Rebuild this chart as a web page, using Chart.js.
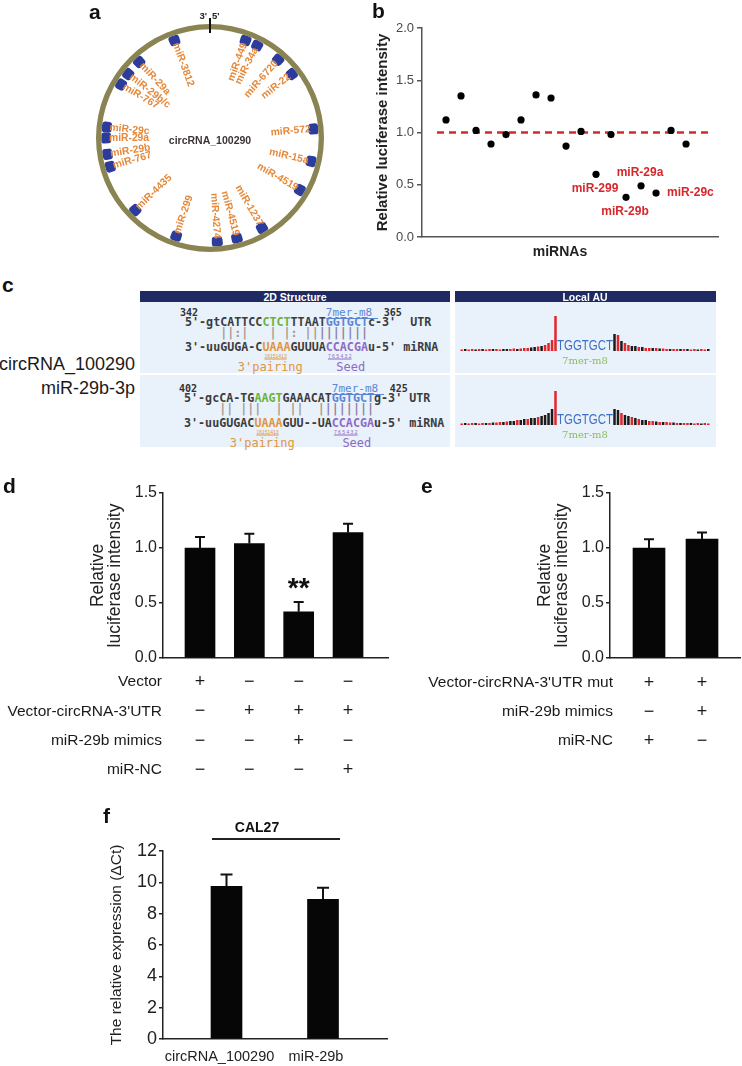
<!DOCTYPE html>
<html>
<head>
<meta charset="utf-8">
<title>circRNA_100290 sponges miR-29b</title>
<script src="https://cdn.jsdelivr.net/npm/chart.js@4.4.1/dist/chart.umd.min.js"></script>
<style>
  html, body { margin: 0; padding: 0; background: #fff; }
  #page { position: relative; width: 742px; height: 1066px; overflow: hidden; font-family: Arial, 'Liberation Sans', sans-serif; color: #1a1a1a; }
  #page canvas { position: absolute; z-index: 2; }
  .t { position: absolute; white-space: pre; line-height: 1; z-index: 3; }
  .box { position: absolute; z-index: 1; }
  .seq { font-family: 'DejaVu Sans Mono', monospace; font-weight: bold; font-size: 11.7px; color: #3c3c3c; }
</style>
</head>
<body>
<div id="page">
  <canvas id="chartA" width="240" height="240" style="left:90px;top:18px"></canvas>
  <canvas id="chartB" width="372" height="260" style="left:370px;top:0px"></canvas>
  <canvas id="chartAU1" width="250" height="40" style="left:460px;top:311px"></canvas>
  <canvas id="chartAU2" width="250" height="40" style="left:460px;top:385px"></canvas>
  <canvas id="chartD" width="400" height="310" style="left:0px;top:470px"></canvas>
  <canvas id="chartE" width="322" height="300" style="left:420px;top:470px"></canvas>
  <canvas id="chartF" width="400" height="266" style="left:0px;top:800px"></canvas>
</div>
<script>
// ---------- data ----------
// a: predicted miRNA sites on circRNA_100290 (degrees clockwise from the 3'/5' junction)
const siteNames = ['miR-449', 'miR-34a', 'miR-6720', 'miR-22', 'miR-572', 'miR-15a', 'miR-4519', 'miR-1237', 'miR-4519',
  'miR-4274', 'miR-299', 'miR-4435', 'miR-767', 'miR-29b', 'miR-29a', 'miR-29c', 'miR-767', 'miR-29b/c', 'miR-29a', 'miR-3812'];
const siteAngles = [20, 27, 41, 52, 85, 103, 120, 150, 165, 176, 199, 226, 254, 261, 270, 276, 301, 308, 317, 340];

// b: luciferase screen, one point per miRNA
const screenValues = [1.12, 1.35, 1.02, 0.89, 0.98, 1.12, 1.36, 1.33, 0.87, 1.01, 0.60, 0.98, 0.38, 0.49, 0.42, 1.02, 0.89];
const hitIndex = [10, 12, 13, 14];
const hitNames = ['miR-299', 'miR-29b', 'miR-29a', 'miR-29c'];
const cutoff = 1.0;

// c: local AU bars either side of the site (r = red, k = black)
const au1Left = [1.5, 2, 1.5, 2, 1.5, 2, 2, 1.5, 2, 2, 2, 1.5, 2, 2, 2, 2.5, 2, 2.5, 3, 3, 3.5, 4, 4.5, 5, 6, 8, 11, 35];
const au1Right = [17, 16, 10, 8, 6, 5, 5, 4, 4, 3, 3, 3, 3, 2.5, 2.5, 2, 2, 2, 2, 2, 2, 2, 1.5, 2, 1.5, 2, 1.5, 2];
const au1Colors = 'rkrrkrkrrkrrkkrrkrrrkkrkrrrr' + 'krkrrkkrkrrkrkrrkrrkrkrrkrrk';
const au2Left = [1.5, 2, 1.5, 2, 2, 1.5, 2, 2, 2, 2.5, 2.5, 3, 3, 3.5, 4, 4, 5, 5, 6, 6, 7, 7, 8, 9, 10, 12, 16, 34];
const au2Right = [16, 15, 12, 10, 9, 8, 7, 6, 5, 5, 4, 4, 3.5, 3, 3, 3, 2.5, 2.5, 2, 2, 2, 2, 2, 1.5, 2, 1.5, 2, 1.5];
const au2Colors = 'rkrrkrrkrkrrkrkkrkkrkkrkkkkr' + 'kkrkkrkrkkrrkrkrrkrkrrkrrkrr';
const auGap = 16;

// d: reporter assay
const dValues = [1.00, 1.04, 0.42, 1.14];
const dErrors = [0.10, 0.09, 0.09, 0.08];
const dStars = ['', '', '**', ''];
const dRows = ['Vector', "Vector-circRNA-3'UTR", 'miR-29b mimics', 'miR-NC'];
const dSigns = [['+', '−', '−', '−'], ['−', '+', '+', '+'], ['−', '−', '+', '−'], ['−', '−', '−', '+']];

// e: mutant reporter
const eValues = [1.00, 1.08];
const eErrors = [0.08, 0.06];
const eRows = ["Vector-circRNA-3'UTR mut", 'miR-29b mimics', 'miR-NC'];
const eSigns = [['+', '+'], ['−', '+'], ['+', '−']];

// f: expression in CAL27
const fLabels = ['circRNA_100290', 'miR-29b'];
const fValues = [9.75, 8.92];
const fErrors = [0.75, 0.74];

// ---------- helpers ----------
const page = document.getElementById('page');
function put(html, x, y, css, align) {
  const el = document.createElement('div');
  el.className = 't';
  el.innerHTML = html;
  if (css) el.style.cssText = css;
  el.style.left = x + 'px';
  el.style.top = y + 'px';
  const tx = align === 'r' ? '-100%' : align === 'c' ? '-50%' : '0';
  el.style.transform = 'translate(' + tx + ',-50%)';
  page.appendChild(el);
  return el;
}
function rect(x, y, w, h, color, z) {
  const el = document.createElement('div');
  el.className = 'box';
  el.style.cssText = 'left:' + x + 'px;top:' + y + 'px;width:' + w + 'px;height:' + h + 'px;background:' + color + ';' + (z ? 'z-index:' + z : '');
  page.appendChild(el);
}

Chart.defaults.font.family = "Arial, 'Liberation Sans', sans-serif";
Chart.defaults.color = '#1a1a1a';
Chart.defaults.animation = false;
Chart.defaults.responsive = false;
Chart.defaults.plugins.legend.display = false;
Chart.defaults.plugins.tooltip.enabled = false;

// error bars (upward only) and significance marks
const errorBars = {
  id: 'errorBars',
  afterDatasetsDraw(chart, args, opts) {
    if (!opts.errors) return;
    const ctx = chart.ctx, y = chart.scales.y;
    const meta = chart.getDatasetMeta(0);
    ctx.save();
    ctx.strokeStyle = '#111';
    ctx.lineWidth = 2;
    meta.data.forEach((bar, i) => {
      const v = chart.data.datasets[0].data[i].y;
      const top = y.getPixelForValue(v + opts.errors[i]);
      ctx.beginPath();
      ctx.moveTo(bar.x, bar.y);
      ctx.lineTo(bar.x, top);
      ctx.moveTo(bar.x - opts.cap, top);
      ctx.lineTo(bar.x + opts.cap, top);
      ctx.stroke();
      if (opts.marks && opts.marks[i]) {
        ctx.fillStyle = '#111';
        ctx.font = 'bold 28px Arial';
        ctx.textAlign = 'center';
        ctx.textBaseline = 'alphabetic';
        ctx.fillText(opts.marks[i], bar.x, top - 5);
      }
    });
    ctx.restore();
  }
};

// +/- condition table under the bars
const signTable = {
  id: 'signTable',
  afterDraw(chart, args, opts) {
    if (!opts.rows) return;
    const ctx = chart.ctx, area = chart.chartArea;
    const meta = chart.getDatasetMeta(0);
    ctx.save();
    ctx.fillStyle = '#1a1a1a';
    ctx.textBaseline = 'middle';
    opts.rows.forEach((name, r) => {
      const yy = area.bottom + opts.top + r * opts.gap;
      ctx.font = '15.5px Arial';
      ctx.textAlign = 'right';
      ctx.fillText(name, area.left + opts.shift, yy);
      ctx.font = '18px Arial';
      ctx.textAlign = 'center';
      opts.signs[r].forEach((s, i) => ctx.fillText(s, meta.data[i].x, yy));
    });
    ctx.restore();
  }
};

// radial miRNA names inside the circle
const siteLabels = {
  id: 'siteLabels',
  afterDraw(chart, args, opts) {
    if (!opts.names) return;
    const ctx = chart.ctx;
    const arc = chart.getDatasetMeta(0).data[0];
    ctx.save();
    ctx.font = 'bold 10.3px Arial';
    ctx.fillStyle = '#e5883a';
    ctx.textBaseline = 'middle';
    opts.names.forEach((name, i) => {
      const a = opts.angles[i] * Math.PI / 180;
      const ux = Math.sin(a), uy = -Math.cos(a);
      ctx.save();
      ctx.translate(arc.x + ux * opts.r, arc.y + uy * opts.r);
      if (opts.angles[i] < 180) {
        ctx.rotate(Math.atan2(uy, ux));
        ctx.textAlign = 'right';
      } else {
        ctx.rotate(Math.atan2(-uy, -ux));
        ctx.textAlign = 'left';
      }
      ctx.fillText(name, 0, 0);
      ctx.restore();
    });
    ctx.restore();
  }
};

// red names next to the hits in b
const pointNotes = {
  id: 'pointNotes',
  afterDatasetsDraw(chart, args, opts) {
    if (!opts.index) return;
    const ctx = chart.ctx;
    const meta = chart.getDatasetMeta(opts.dataset);
    ctx.save();
    ctx.font = 'bold 12px Arial';
    ctx.fillStyle = '#d7262c';
    ctx.textBaseline = 'middle';
    opts.index.forEach((idx, k) => {
      const p = meta.data[idx];
      const where = opts.place[k];
      if (where === 'right') {
        ctx.textAlign = 'left';
        ctx.fillText(opts.names[k], p.x + 11, p.y);
      } else {
        ctx.textAlign = 'center';
        ctx.fillText(opts.names[k], p.x - 1, p.y + (where === 'above' ? -13 : 14));
      }
    });
    ctx.restore();
  }
};

Chart.register(errorBars, signTable, siteLabels, pointNotes);

// ---------- a: circle map ----------
const markWidth = 6;
const ringSegments = [], ringColors = [];
let pos = 0;
siteAngles.forEach(a => {
  const start = a - markWidth / 2;
  ringSegments.push(start - pos); ringColors.push('rgba(0,0,0,0)');
  ringSegments.push(markWidth); ringColors.push('#2b3c9c');
  pos = start + markWidth;
});
ringSegments.push(360 - pos); ringColors.push('rgba(0,0,0,0)');

new Chart(document.getElementById('chartA'), {
  type: 'doughnut',
  data: {
    datasets: [
      { data: [1], backgroundColor: '#8a8452', borderWidth: 0, weight: 3.5 },
      { data: ringSegments, backgroundColor: ringColors, borderWidth: 0, borderRadius: 3, weight: 6.5 }
    ]
  },
  options: {
    devicePixelRatio: 1,
    radius: 114,
    cutout: 104,
    layout: { padding: 0 },
    plugins: { siteLabels: { names: siteNames, angles: siteAngles, r: 101 } }
  }
});
put('a', 89, 11, 'font-weight:bold;font-size:21px;color:#111');
rect(209, 18, 2, 15, '#111', 4);
put("3'", 207, 16, 'font-weight:bold;font-size:9.5px;color:#222', 'r');
put("5'", 212, 16, 'font-weight:bold;font-size:9.5px;color:#222');
put('circRNA_100290', 210, 140, 'font-weight:bold;font-size:10.5px;color:#3d3535', 'c');

// ---------- b: screen ----------
new Chart(document.getElementById('chartB'), {
  type: 'scatter',
  data: {
    datasets: [
      {
        data: screenValues.map((v, i) => ({ x: i + 1, y: v })),
        backgroundColor: '#000', borderWidth: 0, pointRadius: 3.6, order: 1
      },
      {
        type: 'line',
        data: [{ x: 0.4, y: cutoff }, { x: 18.6, y: cutoff }],
        borderColor: '#d42a2a', borderWidth: 2.5, borderDash: [7, 5], pointRadius: 0, order: 2
      }
    ]
  },
  options: {
    devicePixelRatio: 1,
    layout: { padding: { left: 0, right: 24, top: 28, bottom: 23 } },
    scales: {
      x: {
        type: 'linear', min: -0.6, max: 19.13,
        ticks: { display: false },
        grid: { display: false, drawTicks: false },
        border: { color: '#555', width: 1.5 },
        afterFit: s => { s.height = 0; }
      },
      y: {
        min: 0, max: 2,
        ticks: { stepSize: 0.5, callback: v => v.toFixed(1), color: '#4a4a4a', font: { size: 13 }, padding: 3 },
        grid: { drawOnChartArea: false, tickLength: 5, color: '#555', lineWidth: 1.5 },
        border: { color: '#555', width: 1.5 },
        title: { display: true, text: 'Relative luciferase intensity', color: '#222', font: { size: 15, weight: 'bold' }, padding: { top: 4, bottom: 0 } },
        afterFit: s => { s.width = 52; }
      }
    },
    plugins: {
      pointNotes: { dataset: 0, index: hitIndex, names: hitNames, place: ['below', 'below', 'above', 'right'] }
    }
  }
});
put('b', 372, 10, 'font-weight:bold;font-size:21px;color:#111');
put('miRNAs', 560, 251, 'font-weight:bold;font-size:14px;color:#222', 'c');

// ---------- c: TargetScan site ----------
const navy = '#1f2a62', pale = '#e9f1fa';
rect(140, 291, 310, 11, navy);
rect(455, 291, 261, 11, navy);
rect(140, 302, 310, 71, pale);
rect(455, 302, 261, 71, pale);
rect(140, 375, 310, 72, pale);
rect(455, 375, 261, 72, pale);
put('2D Structure', 295, 296.5, 'font-weight:bold;font-size:10.5px;color:#fff', 'c');
put('Local AU', 585, 296.5, 'font-weight:bold;font-size:10.5px;color:#fff', 'c');
put('c', 2, 284, 'font-weight:bold;font-size:21px;color:#111');
put('circRNA_100290', 135, 364, 'font-size:18px;color:#1a1a1a', 'r');
put('miR-29b-3p', 135, 388, 'font-size:18px;color:#1a1a1a', 'r');

const G = s => '<span style="color:#6cb23a">' + s + '</span>';
const B = s => '<span style="color:#5b86d6">' + s + '</span>';
const O = s => '<span style="color:#e0963e">' + s + '</span>';
const P = s => '<span style="color:#8e6bc4">' + s + '</span>';
const bars = s => '<span style="color:#a39a90">' + s + '</span>';
const seedBars = s => '<span style="color:#8a7fa8">' + s + '</span>';
const cw = 7.04;

function siteRow(y0, x0, start, end, utr, pairs, mir, seedAt, pairAt) {
  put(start, x0 - 5, y0 - 10, 'font-family:DejaVu Sans Mono,monospace;font-weight:bold;font-size:10px;color:#333');
  put('7mer-m8', x0 + seedAt * cw, y0 - 11, 'font-family:DejaVu Sans Mono,monospace;font-size:11px;color:#5b86d6');
  rect(x0 + seedAt * cw, y0 - 5, 52, 1, '#5b86d6', 3);
  put(end, x0 + seedAt * cw + 58, y0 - 10, 'font-family:DejaVu Sans Mono,monospace;font-weight:bold;font-size:10px;color:#333');
  put(utr, x0, y0, '', 'l').className = 't seq';
  put(pairs, x0, y0 + 11, '', 'l').className = 't seq';
  put(mir, x0, y0 + 25, '', 'l').className = 't seq';
  put('<u>16151413</u>', x0 + pairAt * cw + 2, y0 + 33, 'font-size:5px;color:#e0963e');
  put('<u>7 6 5 4 3 2</u>', x0 + (seedAt + 0.3) * cw, y0 + 33, 'font-size:5px;color:#8e6bc4');
  put("3'pairing", x0 + (pairAt - 3.5) * cw, y0 + 44, 'font-family:DejaVu Sans Mono,monospace;font-size:12px;color:#e0963e');
  put('Seed', x0 + (seedAt + 1.5) * cw, y0 + 44, 'font-family:DejaVu Sans Mono,monospace;font-size:12px;color:#8e6bc4');
}
siteRow(323, 185, '342', '365',
  "5'-gtCATTCC" + G('CTCT') + 'TTAAT' + B('GGTGCT') + "c-3'  UTR",
  bars('     ||:|   | |: ||') + seedBars('|||||||'),
  "3'-uuGUGA-C" + O('UAAA') + 'GUUUA' + P('CCACGA') + "u-5' miRNA", 20, 11);
siteRow(399, 184, '402', '425',
  "5'-gcCA-TG" + G('AAGT') + 'GAAACAT' + B('GGTGCT') + "g-3' UTR",
  bars('     || |||  | ||  |') + seedBars('|||||||'),
  "3'-uuGUGAC" + O('UAAA') + 'GUU--UA' + P('CCACGA') + "u-5' miRNA", 21, 10);

function auChart(id, left, right, colors) {
  const values = left.concat(new Array(auGap).fill(null), right);
  const fills = colors.slice(0, left.length).split('').concat(new Array(auGap).fill('r'), colors.slice(left.length).split(''))
    .map(c => (c === 'k' ? '#1b1b1b' : '#e0252b'));
  new Chart(document.getElementById(id), {
    type: 'bar',
    data: {
      labels: values.map((v, i) => i),
      datasets: [{ data: values, backgroundColor: fills, borderWidth: 0, categoryPercentage: 1, barPercentage: 0.72 }]
    },
    options: {
      devicePixelRatio: 1,
      layout: { padding: 0 },
      scales: { x: { display: false }, y: { display: false, min: 0, max: 40 } }
    }
  });
}
auChart('chartAU1', au1Left, au1Right, au1Colors);
auChart('chartAU2', au2Left, au2Right, au2Colors);
put('TGGTGCT', 585, 345, 'font-size:14px;color:#3f6fc6', 'c').style.transform = 'translate(-50%,-50%) scaleX(0.82)';
put('7mer-m8', 585, 361, 'font-family:DejaVu Serif,serif;font-size:10px;color:#8cbf5a', 'c');
put('TGGTGCT', 585, 419, 'font-size:14px;color:#3f6fc6', 'c').style.transform = 'translate(-50%,-50%) scaleX(0.82)';
put('7mer-m8', 585, 435, 'font-family:DejaVu Serif,serif;font-size:10px;color:#8cbf5a', 'c');

// ---------- d, e, f: bar charts ----------
function yAxis(max, step, digits, fontSize, title, width) {
  return {
    min: 0, max: max,
    ticks: { stepSize: step, callback: v => v.toFixed(digits), color: '#222', font: { size: fontSize }, padding: 2 },
    grid: { drawOnChartArea: false, tickLength: 4, color: '#222', lineWidth: 1.5 },
    border: { color: '#222', width: 1.5 },
    title: { display: true, text: title.text, color: '#222', font: { size: title.size, lineHeight: title.lineHeight }, padding: { top: 4, bottom: 0 } },
    afterFit: s => { s.width = width; }
  };
}
function xAxis(min, max) {
  return {
    type: 'linear', min: min, max: max, offset: false,
    ticks: { display: false }, grid: { display: false, drawTicks: false, offset: false },
    border: { color: '#222', width: 1.5 },
    afterFit: s => { s.height = 0; }
  };
}

new Chart(document.getElementById('chartD'), {
  type: 'bar',
  data: { datasets: [{ data: dValues.map((v, i) => ({ x: i + 1, y: v })), backgroundColor: '#060606', barThickness: 30, borderWidth: 0 }] },
  options: {
    devicePixelRatio: 1,
    layout: { padding: { left: 85, right: 12, top: 23, bottom: 122 } },
    scales: {
      x: xAxis(0.25, 4.81),
      y: yAxis(1.5, 0.5, 1, 16, { text: ['Relative', 'luciferase intensity'], size: 17.5, lineHeight: 1 }, 78)
    },
    plugins: {
      errorBars: { errors: dErrors, cap: 5, marks: dStars },
      signTable: { rows: dRows, signs: dSigns, top: 24, gap: 29.3, shift: -1 }
    }
  }
});
put('d', 3, 485, 'font-weight:bold;font-size:21px;color:#111');

new Chart(document.getElementById('chartE'), {
  type: 'bar',
  data: { datasets: [{ data: eValues.map((v, i) => ({ x: i + 1, y: v })), backgroundColor: '#060606', barThickness: 32, borderWidth: 0 }] },
  options: {
    devicePixelRatio: 1,
    layout: { padding: { left: 112, right: 2, top: 23, bottom: 112 } },
    scales: {
      x: xAxis(0.264, 2.717),
      y: yAxis(1.5, 0.5, 1, 16, { text: ['Relative', 'luciferase intensity'], size: 17.5, lineHeight: 1 }, 78)
    },
    plugins: {
      errorBars: { errors: eErrors, cap: 5 },
      signTable: { rows: eRows, signs: eSigns, top: 25, gap: 29, shift: 3 }
    }
  }
});
put('e', 421, 485, 'font-weight:bold;font-size:21px;color:#111');

new Chart(document.getElementById('chartF'), {
  type: 'bar',
  data: { datasets: [{ data: fValues.map((v, i) => ({ x: i + 1, y: v })), backgroundColor: '#060606', barThickness: 31, borderWidth: 0 }] },
  options: {
    devicePixelRatio: 1,
    layout: { padding: { left: 105, right: 13, top: 51, bottom: 0 } },
    scales: {
      x: {
        type: 'linear', min: 0.342, max: 2.663, offset: false,
        afterBuildTicks: s => { s.ticks = fLabels.map((l, i) => ({ value: i + 1 })); },
        ticks: { callback: v => fLabels[v - 1], color: '#222', font: { size: 14.5 }, padding: 9, labelOffset: -7, autoSkip: false, maxRotation: 0 },
        grid: { display: false, drawTicks: false, offset: false },
        border: { color: '#222', width: 1.5 },
        afterFit: s => { s.height = 27; }
      },
      y: yAxis(12, 2, 0, 18, { text: 'The relative expression (ΔCt)', size: 15.5, lineHeight: 1 }, 58)
    },
    plugins: { errorBars: { errors: fErrors, cap: 6 } }
  }
});
put('f', 103, 815, 'font-weight:bold;font-size:21px;color:#111');
put('CAL27', 257, 827, 'font-weight:bold;font-size:14px;color:#111', 'c');
rect(212, 838, 128, 2, '#222', 3);
</script>
</body>
</html>
